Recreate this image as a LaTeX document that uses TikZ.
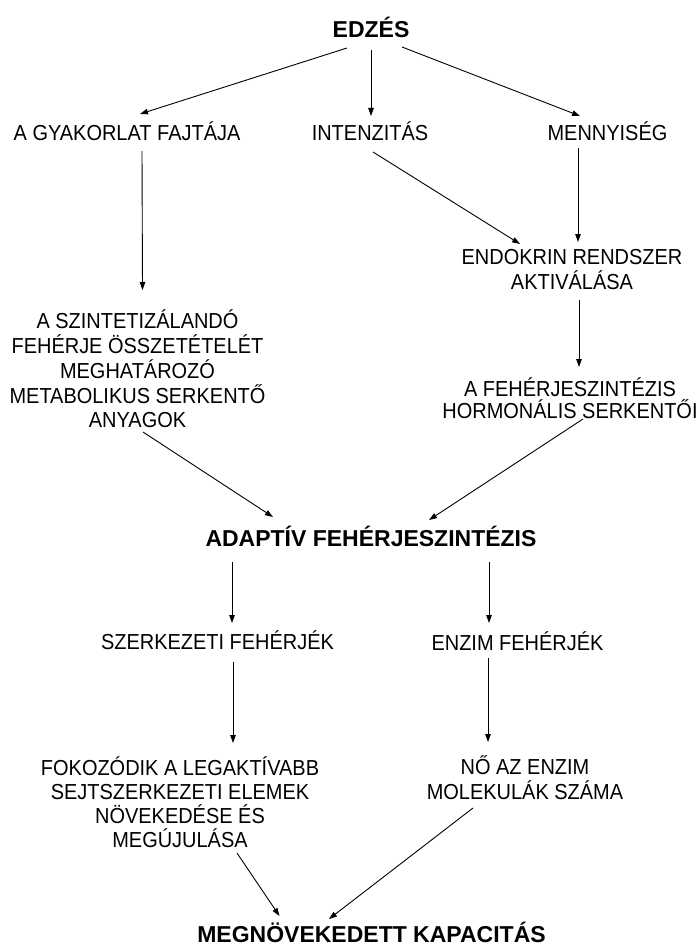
\documentclass[tikz,border=0pt]{standalone}
\usepackage{fontspec}
\setmainfont{Liberation Sans}
\newfontfamily\regfont{Liberation Sans}[FakeStretch=0.92]
\usetikzlibrary{arrows.meta}
\tikzset{
  reg/.style={font=\regfont\fontsize{21.7}{24.5}\selectfont, inner sep=0pt, align=center, text height=15.5pt, text depth=0pt},
  multi/.style={inner sep=0pt, align=center},
  big/.style={font=\bfseries\fontsize{23}{27}\selectfont, inner sep=0pt, text height=16.5pt, text depth=0pt},
  arr/.style={line width=0.9pt, -{Triangle[length=8pt,width=5.5pt]}}
}
\begin{document}
\begin{tikzpicture}[x=1pt,y=-1pt]
\useasboundingbox[fill=white] (0,0) rectangle (699,947);
\node[big] (edzes) at (371,29) {EDZÉS};
\node[reg] (gyak) at (127,133) {A GYAKORLAT FAJTÁJA};
\node[reg] (intenz) at (370,133) {INTENZITÁS};
\node[reg] (menny) at (607.5,133) {MENNYISÉG};
\node[multi, font=\regfont\fontsize{21.7}{25}\selectfont] (endo) at (572,269.5) {ENDOKRIN RENDSZER\\AKTIVÁLÁSA};
\node[multi, font=\regfont\fontsize{21.7}{24.75}\selectfont] (szint) at (137.5,369) {A SZINTETIZÁLANDÓ\\FEHÉRJE ÖSSZETÉTELÉT\\MEGHATÁROZÓ\\METABOLIKUS SERKENTŐ\\ANYAGOK};
\node[multi, font=\regfont\fontsize{21.7}{22}\selectfont] (hormon) at (570,398) {A FEHÉRJESZINTÉZIS\\HORMONÁLIS SERKENTŐI};
\node[big] (adapt) at (371,538) {ADAPTÍV FEHÉRJESZINTÉZIS};
\node[reg] (szerk) at (217.5,642) {SZERKEZETI FEHÉRJÉK};
\node[reg] (enzim) at (517.5,643) {ENZIM FEHÉRJÉK};
\node[multi, font=\regfont\fontsize{21.7}{24}\selectfont] (fokoz) at (180,802.5) {FOKOZÓDIK A LEGAKTÍVABB\\SEJTSZERKEZETI ELEMEK\\NÖVEKEDÉSE ÉS\\MEGÚJULÁSA};
\node[multi, font=\regfont\fontsize{21.7}{25}\selectfont] (no) at (525,778) {NŐ AZ ENZIM\\MOLEKULÁK SZÁMA};
\node[big] (megn) at (371.5,934.5) {MEGNÖVEKEDETT KAPACITÁS};

\draw[arr] ([shift={(-24,19)}]edzes.center) -- ([shift={(13,-19)}]gyak.center);
\draw[arr] ([shift={(0,21)}]edzes.center) -- ([shift={(1,-17)}]intenz.center);
\draw[arr] ([shift={(31,18)}]edzes.center) -- ([shift={(-27.5,-17)}]menny.center);
\draw[arr] ([shift={(15,18)}]gyak.center) -- ([shift={(5,-79)}]szint.center);
\draw[arr] ([shift={(3,19)}]intenz.center) -- ([shift={(-52,-25.5)}]endo.center);
\draw[arr] ([shift={(-29.5,15)}]menny.center) -- ([shift={(6,-27.5)}]endo.center);
\draw[arr] ([shift={(7,30.5)}]endo.center) -- ([shift={(9,-31)}]hormon.center);
\draw[arr] ([shift={(5.5,63)}]szint.center) -- ([shift={(-98,-21)}]adapt.center);
\draw[arr] ([shift={(13,21)}]hormon.center) -- ([shift={(58,-18)}]adapt.center);
\draw[arr] ([shift={(-139,24)}]adapt.center) -- ([shift={(14.5,-19)}]szerk.center);
\draw[arr] ([shift={(118,24)}]adapt.center) -- ([shift={(-28.5,-20)}]enzim.center);
\draw[arr] ([shift={(15.5,20)}]szerk.center) -- ([shift={(53,-59.5)}]fokoz.center);
\draw[arr] ([shift={(-29.5,15)}]enzim.center) -- ([shift={(-37,-36)}]no.center);
\draw[arr] ([shift={(57,50.5)}]fokoz.center) -- ([shift={(-92,-18.5)}]megn.center);
\draw[arr] ([shift={(-52,30)}]no.center) -- ([shift={(-42.5,-15.5)}]megn.center);
\end{tikzpicture}
\end{document}
